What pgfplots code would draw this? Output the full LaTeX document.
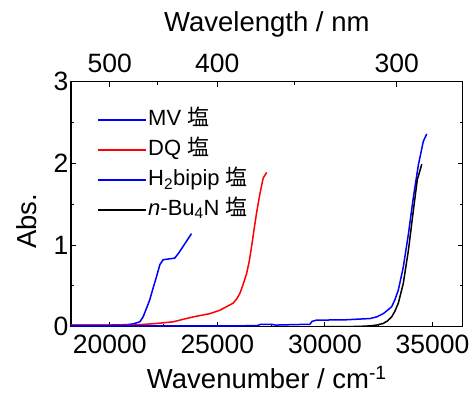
\documentclass[border=0pt]{standalone}
\usepackage{fontspec}
\setmainfont{Liberation Sans}
\newfontfamily\cjk{Noto Sans CJK JP}
\usepackage{pgfplots}
\pgfplotsset{compat=1.18}
\newcommand{\bigfont}{\fontsize{26.5}{30}\selectfont}
\newcommand{\labfont}{\fontsize{27.5}{31}\selectfont}
\pgfplotsset{
  common/.style={
    scale only axis, width=391.7pt, height=245pt,
    xmin=18200, xmax=36400, ymin=0, ymax=3,
    /pgf/number format/assume math mode=true,
    tick label style={font=\bigfont},
    axis line style={line width=1.2pt},
    major tick length=5pt, minor tick length=3pt,
    tick style={line width=1pt, black},
    scaled x ticks=false,
    xticklabel style={/pgf/number format/1000 sep=},
  }
}
\begin{document}
\begin{tikzpicture}
\begin{axis}[common,
  xtick={20000,25000,30000,35000}, minor xtick={22500,27500,32500},
  ytick={0,1,2,3}, minor ytick={0.5,1.5,2.5},
  xtick pos=bottom, ytick pos=both,
  xticklabel style={yshift=-5pt},
  yticklabel style={xshift=1pt},
  xlabel={Wavenumber / cm\textsuperscript{-1}},
  ylabel={Abs.},
  every axis x label/.style={at={(axis description cs:0.5,0)}, anchor=center, yshift=-51pt, font=\labfont},
  every axis y label/.style={at={(axis description cs:-0.113,0.43)}, anchor=center, rotate=90, font=\labfont},
  legend style={draw=none, fill=none, at={(axis description cs:0.06,0.9)}, anchor=north west,
    font=\fontsize{22}{26}\selectfont, row sep=7pt,
    nodes={inner sep=1pt, text height=16pt, text depth=5pt}},
  legend cell align=left,
  legend image code/.code={\draw[#1, line width=1.5pt] (0pt,0pt) -- (48pt,0pt);},
]
\addplot[blue, line width=1.5pt] coordinates {
(18200,0.02) (19000,0.02) (20000,0.02) (20800,0.025) (21100,0.035) (21400,0.06) (21550,0.12) (21700,0.22) (21860,0.33) (22000,0.46) (22170,0.61) (22330,0.76) (22480,0.82) (22750,0.83) (23020,0.84) (23200,0.9) (23500,1.02) (23800,1.14)};
\addlegendentry{MV {\cjk 塩}}
\addplot[red, line width=1.5pt] coordinates {
(18200,0.02) (20000,0.02) (21000,0.02) (21400,0.025) (22200,0.04) (22950,0.06) (23400,0.09) (23880,0.12) (24650,0.16) (25100,0.2) (25430,0.245) (25740,0.29) (25900,0.34) (26050,0.41) (26200,0.52) (26360,0.65) (26480,0.8) (26590,0.98) (26700,1.18) (26820,1.39) (26980,1.63) (27130,1.82) (27290,1.89)};
\addlegendentry{DQ {\cjk 塩}}
\addplot[blue, line width=1.5pt] coordinates {
(18200,0.01) (22000,0.01) (24000,0.01) (26000,0.01) (26900,0.015) (27000,0.03) (27500,0.03) (27700,0.02) (29300,0.03) (29400,0.065) (29600,0.08) (31000,0.085) (32090,0.10) (32400,0.12) (32710,0.16) (32900,0.2) (33100,0.245) (33250,0.33) (33410,0.45) (33640,0.73) (33880,1.14) (34110,1.59) (34340,1.98) (34570,2.27) (34730,2.36)};
\addlegendentry{H\textsubscript{2}bipip {\cjk 塩}}
\addplot[black, line width=1.5pt] coordinates {
(29900,0.0) (31000,0.0) (31700,0.005) (32090,0.01) (32400,0.02) (32710,0.04) (32900,0.07) (33100,0.12) (33250,0.19) (33410,0.29) (33640,0.53) (33880,0.94) (34110,1.43) (34290,1.80) (34500,1.99)};
\addlegendentry{\textit{n}-Bu\textsubscript{4}N {\cjk 塩}}
\end{axis}
\begin{axis}[common,
  axis x line*=top, axis y line=none,
  xtick={20000,25000,33333.33}, xticklabels={500,400,300},
  minor xtick={22222.2,28571.4},
  xticklabel style={yshift=5pt},
  xlabel={Wavelength / nm},
  every axis x label/.style={at={(axis description cs:0.5,1)}, anchor=center, yshift=57.7pt, font=\labfont},
]
\addplot[draw=none] coordinates {(20000,1)};
\end{axis}
\useasboundingbox ([shift={(-71pt,-67.3pt)}]current axis.south west) rectangle ([shift={(11.3pt,81.7pt)}]current axis.north east);
\end{tikzpicture}
\end{document}
